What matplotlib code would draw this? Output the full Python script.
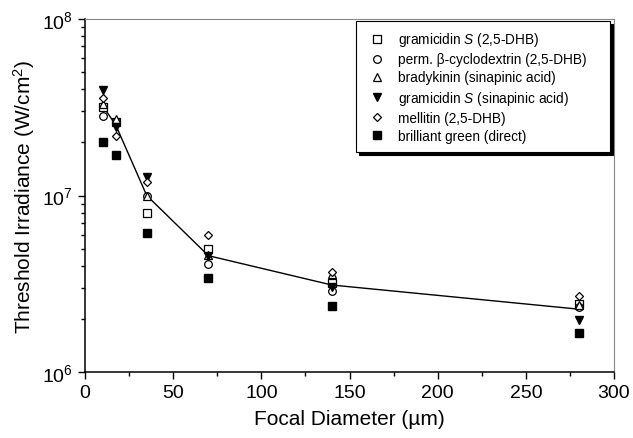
import matplotlib
matplotlib.use("Agg")
import matplotlib.pyplot as plt
from matplotlib.ticker import LogLocator, FixedLocator, MultipleLocator

plt.rcParams['font.family'] = ['Liberation Sans', 'DejaVu Sans']
plt.rcParams['mathtext.fontset'] = 'custom'
plt.rcParams['mathtext.rm'] = 'Liberation Sans'
plt.rcParams['mathtext.it'] = 'Liberation Sans:italic'

# focal diameters (um)
diam = [10, 17.5, 35, 70, 140, 280]

# threshold irradiance (W/cm^2) per sample
gram_dhb = [3.16e7, 2.6e7, 7.96e6, 4.98e6, 3.19e6, 2.43e6]
cyclodex = [2.81e7, 2.6e7, 1.0e7, 4.11e6, 2.88e6, 2.35e6]
bradykinin = [3.3e7, 2.7e7, 1.0e7, 4.6e6, 3.59e6, 2.40e6]
gram_sa = [3.95e7, 2.43e7, 1.28e7, 4.52e6, 3.02e6, 1.98e6]
mellitin = [3.57e7, 2.18e7, 1.19e7, 5.97e6, 3.70e6, 2.71e6]
brilliant = [2.0e7, 1.7e7, 6.13e6, 3.4e6, 2.37e6, 1.67e6]

# mean curve
mean_curve = [3.23e7, 2.5e7, 1.0e7, 4.56e6, 3.11e6, 2.27e6]

labels = ['gramicidin $\\it{S}$ (2,5-DHB)',
          'perm. β-cyclodextrin (2,5-DHB)',
          'bradykinin (sinapinic acid)',
          'gramicidin $\\it{S}$ (sinapinic acid)',
          'mellitin (2,5-DHB)',
          'brilliant green (direct)']

fig = plt.figure(figsize=(6.33, 4.39), dpi=100)
ax = fig.add_axes([85/633, 1 - 373/439, 529/633, 353/439])

ax.plot(diam, mean_curve, color='black', lw=1.0, zorder=1)

ms = 5.5
ax.plot(diam, gram_dhb, 's', mfc='white', mec='black', mew=0.9, ms=ms, ls='none', label=labels[0])
ax.plot(diam, cyclodex, 'o', mfc='white', mec='black', mew=0.9, ms=ms, ls='none', label=labels[1])
ax.plot(diam, bradykinin, '^', mfc='white', mec='black', mew=0.9, ms=ms + 0.5, ls='none', label=labels[2])
ax.plot(diam, gram_sa, 'v', mfc='black', mec='black', ms=ms + 0.5, ls='none', label=labels[3])
ax.plot(diam, mellitin, 'D', mfc='white', mec='black', mew=0.9, ms=ms - 1, ls='none', label=labels[4])
ax.plot(diam, brilliant, 's', mfc='black', mec='black', ms=ms, ls='none', label=labels[5])

ax.set_yscale('log')
ax.set_ylim(1e6, 1e8)
ax.set_xlim(0, 300)
ax.yaxis.set_major_locator(FixedLocator([1e6, 1e7, 1e8]))
ax.set_yticklabels(['$10^6$', '$10^7$', '$10^8$'])
ax.yaxis.set_minor_locator(LogLocator(base=10, subs=range(2, 10)))
ax.xaxis.set_major_locator(MultipleLocator(50))
ax.xaxis.set_minor_locator(MultipleLocator(25))

ax.tick_params(which='both', direction='out', top=False, right=False, labelsize=14)
ax.tick_params(which='major', length=5, width=1)
ax.tick_params(which='minor', length=3, width=1)

for s in ['left', 'bottom']:
    ax.spines[s].set_linewidth(1.1)
for s in ['top', 'right']:
    ax.spines[s].set_linewidth(0.8)
    ax.spines[s].set_color('#888888')

ax.set_xlabel('Focal Diameter (µm)', fontsize=15, labelpad=6)
ax.set_ylabel('Threshold Irradiance (W/cm$^2$)', fontsize=15, labelpad=4)

leg = ax.legend(loc='upper left', bbox_to_anchor=(0.512, 0.0, 0.48, 0.995), mode='expand',
                borderaxespad=0, fontsize=9.8, frameon=True, fancybox=False,
                shadow={'color': 'black', 'alpha': 1}, edgecolor='black', framealpha=1,
                labelspacing=0.3, handletextpad=0.7, handlelength=1.7, borderpad=0.7)
leg.get_frame().set_linewidth(0.8)

fig.savefig('out.png', dpi=100)
